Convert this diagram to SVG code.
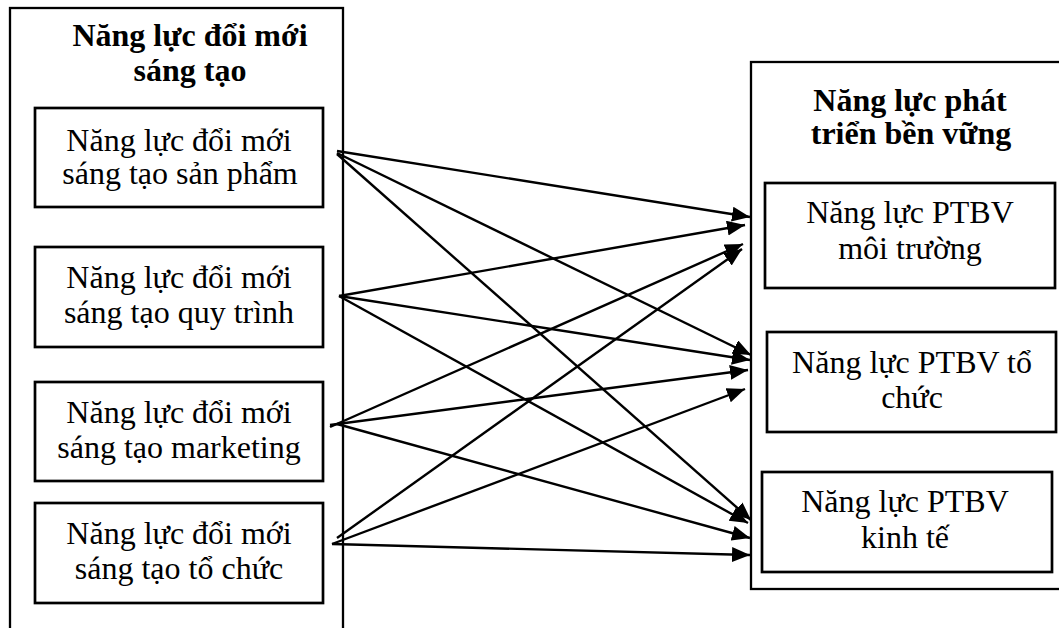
<svg xmlns="http://www.w3.org/2000/svg" width="1059" height="628" viewBox="0 0 1059 628">
<defs>
<marker id="ah" markerUnits="userSpaceOnUse" markerWidth="20" markerHeight="16" refX="18" refY="7.5" orient="auto">
<path d="M0,0 L18,7.5 L0,15 z" fill="#000"/>
</marker>
<style>
.outer{fill:none;stroke:#000;stroke-width:2.3}
.inner{fill:#fff;stroke:#000;stroke-width:2.7}
.t{font-family:"Liberation Serif","Times New Roman",serif;font-size:32px;fill:#000;text-anchor:middle}
.b{font-weight:bold}
.c line{stroke:#000;stroke-width:2.4;marker-end:url(#ah)}
</style>
</defs>
<rect width="1059" height="628" fill="#fff"/>
<g id="group-left">
<rect class="outer" x="10" y="8" width="333" height="640"/>
<text class="t b" x="190" y="46">Năng lực đổi mới</text>
<text class="t b" x="190" y="81">sáng tạo</text>
</g>
<g id="group-right">
<rect class="outer" x="751" y="62" width="330" height="527"/>
<text class="t b" x="910" y="111">Năng lực phát</text>
<text class="t b" x="911" y="144">triển bền vững</text>
</g>
<g id="node-product">
<rect class="inner" x="35" y="108" width="288" height="99"/>
<text class="t" x="179" y="151">Năng lực đổi mới</text>
<text class="t" x="180" y="184">sáng tạo sản phẩm</text>
</g>
<g id="node-process">
<rect class="inner" x="35" y="247" width="288" height="100"/>
<text class="t" x="179" y="288">Năng lực đổi mới</text>
<text class="t" x="179" y="323">sáng tạo quy trình</text>
</g>
<g id="node-marketing">
<rect class="inner" x="35" y="382" width="288" height="99"/>
<text class="t" x="179" y="423">Năng lực đổi mới</text>
<text class="t" x="179" y="458">sáng tạo marketing</text>
</g>
<g id="node-org">
<rect class="inner" x="35" y="503" width="288" height="100"/>
<text class="t" x="179" y="544">Năng lực đổi mới</text>
<text class="t" x="179" y="579">sáng tạo tổ chức</text>
</g>
<g id="node-env">
<rect class="inner" x="765" y="183" width="290" height="105"/>
<text class="t" x="910" y="223">Năng lực PTBV</text>
<text class="t" x="910" y="259">môi trường</text>
</g>
<g id="node-orgdev">
<rect class="inner" x="767" y="332" width="289" height="100"/>
<text class="t" x="912" y="373">Năng lực PTBV tổ</text>
<text class="t" x="912" y="408">chức</text>
</g>
<g id="node-econ">
<rect class="inner" x="762" y="472" width="290" height="100"/>
<text class="t" x="905" y="512">Năng lực PTBV</text>
<text class="t" x="905" y="548">kinh tế</text>
</g>
<g id="connectors" class="c">
<line x1="337" y1="151" x2="750" y2="217"/>
<line x1="337" y1="153" x2="751" y2="355"/>
<line x1="337" y1="154" x2="751" y2="520"/>
<line x1="339" y1="296" x2="745" y2="225"/>
<line x1="339" y1="296" x2="750" y2="360"/>
<line x1="339" y1="296" x2="748" y2="523"/>
<line x1="330" y1="427" x2="743" y2="244"/>
<line x1="330" y1="425" x2="748" y2="370"/>
<line x1="337" y1="424" x2="750" y2="538"/>
<line x1="337" y1="538" x2="742" y2="249"/>
<line x1="332" y1="544" x2="745" y2="389"/>
<line x1="332" y1="544" x2="750" y2="555"/>
</g>
</svg>
